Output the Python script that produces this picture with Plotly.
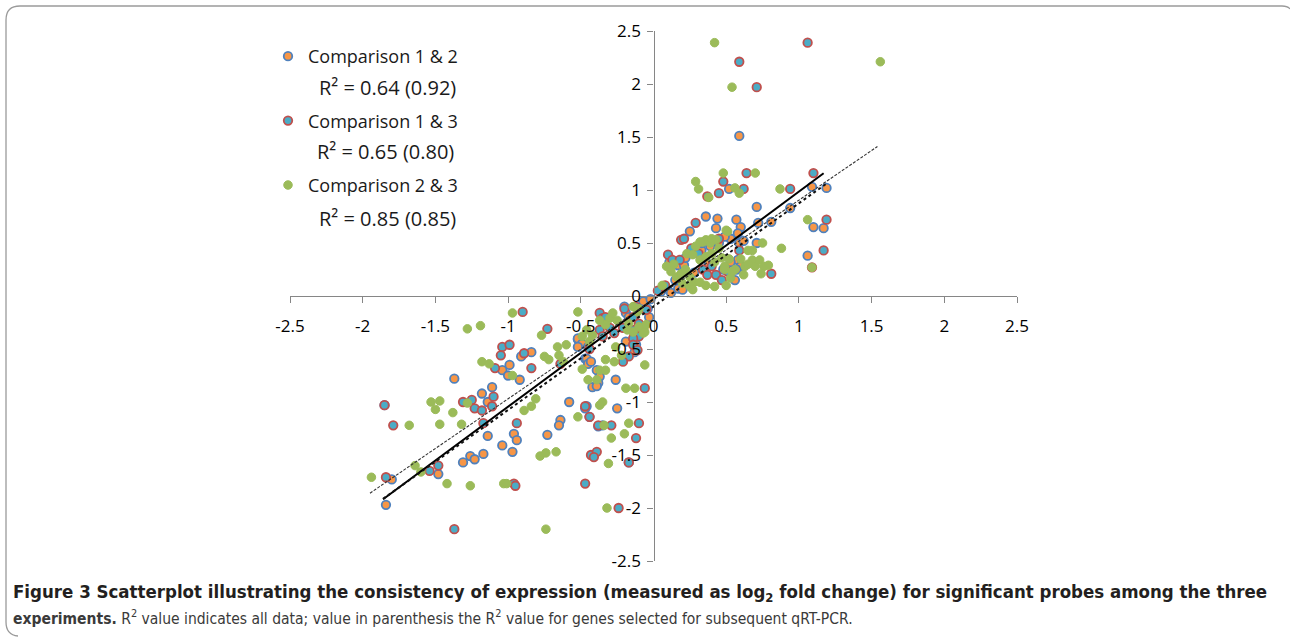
import plotly.graph_objects as go

# ---------------- data ----------------
series_names = ["Comparison 1 & 2", "Comparison 1 & 3", "Comparison 2 & 3"]
r2_labels = ["R² = 0.64 (0.92)", "R² = 0.65 (0.80)", "R² = 0.85 (0.85)"]

x12 = [-1.84, -1.80, -1.85, -1.48, -1.37, -1.31, -1.26, -1.23, -1.17, -1.14, -1.18, -1.14, -1.11,
       -1.04, -1.04, -0.91, -0.84, -0.99, -1.00, -0.92, -0.52, -0.47, -0.42, -0.58, -0.44, -0.64,
       -0.65, -0.96, -0.94, -0.97, -0.73, -0.38, -0.17, -0.52, -0.49, -0.52, -0.45, -0.19, -0.12,
       -0.13, -0.46, -0.45, -0.43, -0.39, -0.37, -0.38, -0.39, -0.26, -0.25, -0.46, -0.47, -0.35,
       -0.20, -0.19, -0.17, -0.04, -0.03, -0.07, -0.02,
       0.59, 0.52, 1.09, 1.19, 0.36, 0.44, 0.25, 0.43, 0.57, 0.60, 0.58, 0.71, 0.94, 0.72, 0.81,
       1.10, 1.17, 0.53, 0.59, 0.62, 0.71, 0.33, 1.06, 0.58, 0.60, 0.48, 0.33, 0.39, 0.45, 0.49,
       0.11, 0.17, 0.21, 0.09, 0.12, 0.17, 0.20, 0.53, 0.57, 0.56, 0.05, 0.15, 0.28, 0.38, 0.22]
y12 = [-1.97, -1.73, -1.03, -1.68, -0.78, -1.57, -1.51, -1.54, -1.49, -1.32, -0.92, -1.00, -0.86,
       -0.70, -1.41, -0.57, -0.53, -0.65, -0.75, -0.79, -0.41, -0.59, -0.86, -1.00, -1.14, -1.17,
       -1.22, -1.30, -1.36, -1.47, -1.31, -1.23, -1.57, -0.40, -0.45, -0.48, -0.48, -0.43, -0.46,
       -0.53, -0.59, -0.64, -0.62, -0.70, -0.76, -0.82, -0.85, -0.79, -1.06, -1.04, -1.06, -1.22,
       -0.10, -0.16, -0.20, -0.12, -0.20, -0.05, -0.03,
       1.51, 1.01, 1.03, 1.02, 0.75, 0.73, 0.61, 0.64, 0.72, 0.65, 0.59, 0.84, 0.83, 0.69, 0.70,
       0.65, 0.64, 0.54, 0.50, 0.52, 0.50, 0.43, 0.38, 0.34, 0.28, 0.25, 0.50, 0.47, 0.50, 0.56,
       0.32, 0.29, 0.29, 0.07, 0.03, 0.07, 0.06, 0.32, 0.25, 0.15, 0.04, 0.15, 0.22, 0.30, 0.36]

x13 = [-1.84, -1.85, -1.79, -1.54, -1.48, -1.37, -1.31, -1.25, -1.23, -1.18, -1.10, -1.11, -1.17,
       -1.09, -1.04, -1.05, -0.90, -0.73, -0.99, -0.89, -0.84, -0.64, -0.44, -0.47, -0.94, -0.96,
       -0.95, -0.47, -0.24, -0.43, -0.39, -0.41, -0.12, -0.29, -0.10, -0.37, -0.35, -0.20, -0.14,
       -0.12, -0.05, -0.37, -0.35, -0.30, -0.27, -0.21, -0.14, -0.13, -0.17, -0.21, -0.06, -0.44,
       -0.17, -0.33, -0.10, -0.07, -0.10, -0.14, -0.14, -0.11, -0.38,
       1.06, 0.59, 0.71, 0.64, 0.48, 0.45, 0.62, 0.94, 1.10, 0.37, 0.29, 1.19, 0.19, 0.21, 0.45,
       0.59, 1.17, 1.09, 0.81, 0.26, 0.31, 0.10, 0.13, 0.18, 0.34, 0.40, 0.37, 0.43, 0.47, 0.51,
       0.08, 0.03]
y13 = [-1.71, -1.03, -1.22, -1.65, -1.60, -2.20, -1.00, -0.98, -1.06, -1.08, -0.95, -1.04, -1.20,
       -0.68, -0.48, -0.56, -0.15, -0.31, -0.46, -0.54, -0.68, -0.64, -0.50, -1.04, -1.20, -1.77,
       -1.79, -1.77, -2.00, -1.50, -1.47, -1.52, -1.34, -1.22, -1.20, -0.16, -0.21, -0.12, -0.20,
       -0.10, -0.13, -0.32, -0.38, -0.30, -0.35, -0.30, -0.32, -0.37, -0.57, -0.62, -0.87, -1.14,
       -1.57, -0.20, -0.26, -0.32, -0.38, -0.40, -0.46, -0.51, -1.22,
       2.39, 2.21, 1.97, 1.16, 1.08, 0.97, 1.01, 1.01, 1.16, 0.94, 0.69, 0.72, 0.53, 0.54, 0.54,
       0.43, 0.43, 0.27, 0.21, 0.45, 0.40, 0.39, 0.34, 0.34, 0.25, 0.28, 0.20, 0.20, 0.15, 0.23,
       0.10, 0.05]

x23 = [-1.94, -1.68, -1.64, -1.60, -1.53, -1.47, -1.50, -1.47, -1.42, -1.38, -1.32, -1.26, -1.28,
       -1.28, -1.19, -1.18, -1.13, -1.03, -0.97, -0.77, -0.97, -0.75, -0.72, -0.66, -0.60, -0.65,
       -0.62, -0.52, -0.49, -0.45, -0.39, -0.81, -0.84, -0.89, -0.52, -0.78, -0.74, -0.67, -1.01,
       -0.74, -0.32, -0.31, -0.29, -0.20, -0.34, -0.17, -0.30, -0.25, -0.33, -0.11, -0.46, -0.42,
       -0.49, -0.44, -0.17, -0.10, -0.07, -0.26, -0.22, -0.06, -0.27, -0.33, -0.37, -0.33, -0.13,
       -0.19, -0.35, -0.37, -0.28, -0.14, -0.10, -0.06, -0.05, -0.18, -0.14, -0.37,
       0.42, 1.56, 0.54, 0.48, 0.70, 0.29, 0.31, 0.56, 0.59, 0.87, 0.38, 1.06, 0.50, 0.34, 0.36,
       0.39, 0.75, 0.88, 0.65, 0.68, 1.09, 0.52, 0.56, 0.54, 0.63, 0.68, 0.70, 0.73, 0.76, 0.79,
       0.74, 0.62, 0.49, 0.32, 0.40, 0.43, 0.51, 0.23, 0.27, 0.29, 0.32, 0.36, 0.40, 0.42, 0.47,
       0.49, 0.09, 0.12, 0.16, 0.19, 0.22, 0.25, 0.28, 0.32, 0.36, 0.42, 0.50, 0.53, 0.25, 0.27,
       0.06, 0.14, 0.20, 0.45, 0.60, 0.65]
y23 = [-1.71, -1.22, -1.60, -1.66, -1.00, -0.99, -1.07, -1.21, -1.77, -1.10, -1.21, -1.79, -1.01,
       -0.31, -0.28, -0.62, -0.64, -1.77, -0.16, -0.37, -0.75, -0.57, -0.60, -0.48, -0.46, -0.56,
       -0.62, -0.15, -0.69, -0.79, -0.79, -0.97, -1.04, -1.08, -1.14, -1.51, -1.48, -1.47, -1.77,
       -2.20, -2.00, -1.58, -1.34, -1.30, -1.22, -1.20, -0.21, -0.23, -0.27, -0.15, -0.32, -0.37,
       -0.38, -0.43, -0.26, -0.29, -0.35, -0.48, -0.56, -0.65, -0.62, -0.60, -0.70, -0.70, -0.87,
       -0.87, -1.00, -1.03, -0.16, -0.10, -0.12, -0.34, -0.27, -0.32, -0.34, -0.23,
       2.39, 2.21, 1.97, 1.16, 1.16, 1.08, 1.01, 1.02, 0.97, 1.01, 0.93, 0.72, 0.62, 0.51, 0.53,
       0.50, 0.50, 0.45, 0.43, 0.43, 0.27, 0.35, 0.25, 0.23, 0.28, 0.34, 0.28, 0.34, 0.28, 0.29,
       0.21, 0.20, 0.25, 0.51, 0.54, 0.53, 0.61, 0.40, 0.39, 0.47, 0.34, 0.37, 0.40, 0.32, 0.36,
       0.28, 0.28, 0.23, 0.18, 0.21, 0.25, 0.18, 0.13, 0.13, 0.10, 0.09, 0.10, 0.17, 0.09, 0.06,
       0.10, 0.30, 0.12, 0.45, 0.35, 0.30]

# linear trendlines (Excel style)
trend_x_start = [-1.86, -1.86, -1.95]
trend_x_end = [1.17, 1.19, 1.54]
trend_slope = [1.015, 0.975, 0.937]
trend_intercept = [-0.03, -0.10, -0.033]

tick_values = [-2.5, -2, -1.5, -1, -0.5, 0, 0.5, 1, 1.5, 2, 2.5]
tick_labels = ["-2.5", "-2", "-1.5", "-1", "-0.5", "0", "0.5", "1", "1.5", "2", "2.5"]

caption_line1 = ("Figure 3 Scatterplot illustrating the consistency of expression (measured as "
                 "log<sub>2</sub> fold change) for significant probes among the three")
caption_bold2 = "experiments."
caption_rest2 = ("R<sup>2</sup> value indicates all data; value in parenthesis the R<sup>2</sup> "
                 "value for genes selected for subsequent qRT-PCR.")

# ---------------- styling ----------------
W, H = 1290, 638
ML, MR, MT, MB = 290, 273, 31, 77
PW, PH = W - ML - MR, H - MT - MB


def px_x(px):
    return (px - ML) / PW


def px_y(py):
    return (H - MB - py) / PH


fill_colors = ["#F79646", "#4BACC6", "#9BBB59"]
ring_colors = ["#4F81BD", "#C0504D", "#9BBB59"]
ring_widths = [1.8, 1.8, 1.0]
trend_dash = ["solid", "dot", "3px,1.5px"]
trend_width = [2.0, 2.0, 1.1]
trend_color = ["#000000", "#111111", "#333333"]

fig = go.Figure()
for i, (xs, ys) in enumerate([(x12, y12), (x13, y13), (x23, y23)]):
    fig.add_trace(go.Scatter(
        x=xs, y=ys, mode="markers", name=series_names[i], legendgroup=f"g{i}",
        marker=dict(size=8.5, color=fill_colors[i],
                    line=dict(color=ring_colors[i], width=ring_widths[i])),
        hoverinfo="x+y"))

for i in range(3):
    xs = [trend_x_start[i], trend_x_end[i]]
    ys = [trend_slope[i] * v + trend_intercept[i] for v in xs]
    fig.add_trace(go.Scatter(
        x=xs, y=ys, mode="lines", showlegend=False, hoverinfo="skip",
        line=dict(color=trend_color[i], width=trend_width[i], dash=trend_dash[i])))

axis_common = dict(
    range=[-2.5, 2.5], tickmode="array", tickvals=tick_values, ticktext=tick_labels,
    showgrid=False, zeroline=False, showline=True, linecolor="#868686", linewidth=1.3,
    ticks="outside", ticklen=6, tickcolor="#868686", tickwidth=1.3,
    tickfont=dict(family="Open Sans, sans-serif", size=17, color="#000000"),
    anchor="free", position=0.5, fixedrange=True,
)
fig.update_xaxes(**axis_common, side="bottom", ticklabelstandoff=8)
fig.update_yaxes(**axis_common, side="left", ticklabelstandoff=3)

annotations = []
r2_px = [(387, 88), (385, 152), (387, 218)]
for (ax, ay), txt in zip(r2_px, r2_labels):
    annotations.append(dict(x=px_x(ax), y=px_y(ay), xref="paper", yref="paper", text=txt,
                            showarrow=False, xanchor="center", yanchor="middle",
                            font=dict(family="Open Sans, sans-serif", size=20, color="#1a1a1a")))

annotations.append(dict(x=px_x(11), y=px_y(593), xref="paper", yref="paper",
                        text="<b>" + caption_line1 + "</b>", showarrow=False,
                        xanchor="left", yanchor="middle",
                        font=dict(family="DejaVu Sans Condensed, DejaVu Sans, sans-serif", size=18.5,
                                  color="#231f20")))
annotations.append(dict(x=px_x(11), y=px_y(617), xref="paper", yref="paper",
                        text="<b>" + caption_bold2 + "</b> " + caption_rest2, showarrow=False,
                        xanchor="left", yanchor="middle",
                        font=dict(family="DejaVu Sans Condensed, DejaVu Sans, sans-serif",
                                  size=15.5, color="#3a3a3a")))

# rounded frame around the figure
frame = (f"M {px_x(1290)},{px_y(9)} Q {px_x(1288)},{px_y(6)} {px_x(1282)},{px_y(6)} "
         f"L {px_x(20)},{px_y(6)} "
         f"Q {px_x(6)},{px_y(6)} {px_x(6)},{px_y(20)} L {px_x(6)},{px_y(622)} "
         f"Q {px_x(6)},{px_y(635)} {px_x(18)},{px_y(636)}")

fig.update_layout(
    width=W, height=H, autosize=False,
    margin=dict(l=ML, r=MR, t=MT, b=MB, pad=0),
    paper_bgcolor="white", plot_bgcolor="white",
    showlegend=True,
    legend=dict(x=px_x(268), y=px_y(38), xanchor="left", yanchor="top",
                bgcolor="rgba(0,0,0,0)", borderwidth=0, tracegroupgap=38,
                font=dict(family="Open Sans, sans-serif", size=18, color="#1a1a1a")),
    annotations=annotations,
    shapes=[dict(type="path", path=frame, xref="paper", yref="paper",
                 line=dict(color="#9a9a9a", width=1.3))],
)

fig.write_html("out.html", config={"displayModeBar": False},
               post_script="document.body.style.margin='0px';document.body.style.overflow='hidden';")
